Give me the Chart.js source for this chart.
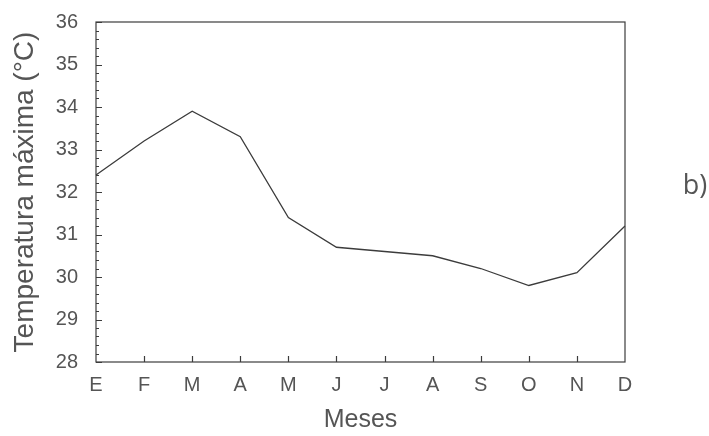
<!DOCTYPE html>
<html>
<head>
<meta charset="utf-8">
<script src="https://cdn.jsdelivr.net/npm/chart.js@4.4.1/dist/chart.umd.min.js"></script>
<style>
    html, body { margin: 0; padding: 0; background: #fff; }
    #wrap { width: 709px; height: 436px; }
</style>
</head>
<body>
<div id="wrap"><canvas id="tmax"></canvas></div>
<script>
// Temperatura máxima mensual
var meses = ["E", "F", "M", "A", "M", "J", "J", "A", "S", "O", "N", "D"];
var tempMax = [32.4, 33.2, 33.9, 33.3, 31.4, 30.7, 30.6, 30.5, 30.2, 29.8, 30.1, 31.2];
var yMin = 28;
var yMax = 36;
var panelLabel = "b)";

const inkColor = "#3c3c3c";
const textColor = "#555555";
const sans = "'Liberation Sans', Arial, sans-serif";

// frame + inward ticks, like the old plotting program did
const frameTicks = {
    id: "frameTicks",
    afterDraw(chart) {
        const ctx = chart.ctx;
        const area = chart.chartArea;
        const xs = chart.scales.x;
        const ys = chart.scales.y;
        ctx.save();
        ctx.strokeStyle = inkColor;
        ctx.lineWidth = 1.2;
        ctx.strokeRect(area.left, area.top, area.right - area.left, area.bottom - area.top);

        ctx.beginPath();
        // y: majors every 1, minors every 0.2
        for (let i = 0; i <= (yMax - yMin) * 5; i++) {
            const v = yMin + i * 0.2;
            const py = Math.round(ys.getPixelForValue(v)) + 0.5;
            const len = i % 5 === 0 ? 6 : 3;
            ctx.moveTo(area.left, py);
            ctx.lineTo(area.left + len, py);
        }
        // x: one tick per month, inside
        for (let i = 1; i < meses.length - 1; i++) {
            const px = Math.round(xs.getPixelForValue(i)) + 0.5;
            ctx.moveTo(px, area.bottom);
            ctx.lineTo(px, area.bottom - 6);
        }
        ctx.stroke();

        ctx.fillStyle = textColor;
        ctx.font = "27px 'Open Sans', 'Noto Sans', sans-serif";
        ctx.textAlign = "center";
        ctx.textBaseline = "middle";
        ctx.fillText(panelLabel, 695, 186);
        ctx.restore();
    },
};

new Chart("tmax", {
    type: "line",
    data: {
        labels: meses,
        datasets: [
            {
                data: tempMax,
                borderColor: inkColor,
                borderWidth: 1.3,
                pointRadius: 0,
                tension: 0,
                fill: false,
            },
        ],
    },
    options: {
        responsive: true,
        maintainAspectRatio: false,
        animation: false,
        layout: {
            padding: { top: 22, right: 84, bottom: 0, left: 0 },
        },
        plugins: {
            legend: { display: false },
            tooltip: { enabled: false },
        },
        scales: {
            x: {
                offset: false,
                grid: { display: false },
                border: { display: false },
                ticks: {
                    color: textColor,
                    font: { family: sans, size: 20 },
                    padding: 3,
                    maxRotation: 0,
                    autoSkip: false,
                },
                title: {
                    display: true,
                    text: "Meses",
                    color: textColor,
                    font: { family: sans, size: 25 },
                    padding: { top: 0, bottom: 1 },
                },
                afterFit: function (scale) {
                    scale.height = 436 - 362;
                },
            },
            y: {
                min: yMin,
                max: yMax,
                grid: { display: false },
                border: { display: false },
                ticks: {
                    stepSize: 1,
                    color: textColor,
                    font: { family: sans, size: 20 },
                    padding: 10,
                },
                title: {
                    display: true,
                    text: "Temperatura máxima (°C)",
                    color: textColor,
                    font: { family: sans, size: 28 },
                    padding: { top: 8, bottom: 0 },
                },
                afterFit: function (scale) {
                    scale.width = 96;
                },
            },
        },
    },
    plugins: [frameTicks],
});
</script>
</body>
</html>
